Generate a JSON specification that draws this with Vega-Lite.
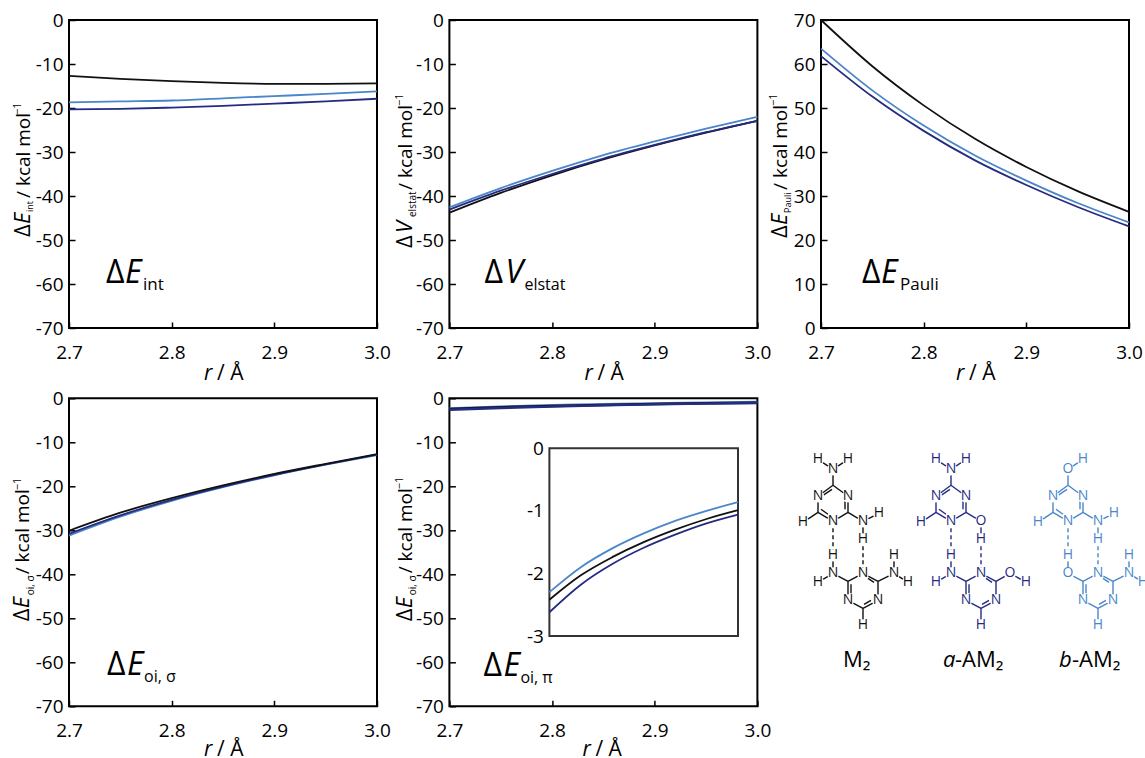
{"$schema":"https://vega.github.io/schema/vega-lite/v6.json","background":"white","padding":{"left":9,"top":10,"right":0,"bottom":0},"spacing":3.3,
"data":{"values":[{"label":"annotation"}]},
"config":{"view":{"stroke":"#000","strokeWidth":2},"axis":{"grid":false,"domain":false,"title":null,"tickSize":-6,"tickWidth":1.5,"tickColor":"#000","labelFont":"Open Sans","labelFontSize":19,"labelColor":"#000","labelPadding":12,"labelFlush":false},"text":{"font":"Open Sans","color":"#000","baseline":"alphabetic"},"line":{"interpolate":"monotone","strokeWidth":1.8}},
"datasets":{
"p1":[{"r":2.7,"e":-18.7,"s":"b-AM2"},{"r":2.75,"e":-18.5,"s":"b-AM2"},{"r":2.8,"e":-18.3,"s":"b-AM2"},{"r":2.85,"e":-17.8,"s":"b-AM2"},{"r":2.9,"e":-17.3,"s":"b-AM2"},{"r":2.95,"e":-16.8,"s":"b-AM2"},{"r":3.0,"e":-16.2,"s":"b-AM2"},
{"r":2.7,"e":-20.3,"s":"a-AM2"},{"r":2.75,"e":-20.2,"s":"a-AM2"},{"r":2.8,"e":-19.9,"s":"a-AM2"},{"r":2.85,"e":-19.5,"s":"a-AM2"},{"r":2.9,"e":-19.0,"s":"a-AM2"},{"r":2.95,"e":-18.5,"s":"a-AM2"},{"r":3.0,"e":-17.9,"s":"a-AM2"},
{"r":2.7,"e":-12.7,"s":"M2"},{"r":2.75,"e":-13.4,"s":"M2"},{"r":2.8,"e":-13.9,"s":"M2"},{"r":2.85,"e":-14.3,"s":"M2"},{"r":2.9,"e":-14.5,"s":"M2"},{"r":2.95,"e":-14.5,"s":"M2"},{"r":3.0,"e":-14.4,"s":"M2"}],
"p2":[{"r":2.7,"e":-43.8,"s":"M2"},{"r":2.75,"e":-39.3,"s":"M2"},{"r":2.8,"e":-35.3,"s":"M2"},{"r":2.85,"e":-31.7,"s":"M2"},{"r":2.9,"e":-28.5,"s":"M2"},{"r":2.95,"e":-25.6,"s":"M2"},{"r":3.0,"e":-22.9,"s":"M2"},
{"r":2.7,"e":-43.1,"s":"a-AM2"},{"r":2.75,"e":-38.8,"s":"a-AM2"},{"r":2.8,"e":-35.0,"s":"a-AM2"},{"r":2.85,"e":-31.5,"s":"a-AM2"},{"r":2.9,"e":-28.4,"s":"a-AM2"},{"r":2.95,"e":-25.5,"s":"a-AM2"},{"r":3.0,"e":-22.9,"s":"a-AM2"},
{"r":2.7,"e":-42.6,"s":"b-AM2"},{"r":2.75,"e":-38.2,"s":"b-AM2"},{"r":2.8,"e":-34.3,"s":"b-AM2"},{"r":2.85,"e":-30.7,"s":"b-AM2"},{"r":2.9,"e":-27.6,"s":"b-AM2"},{"r":2.95,"e":-24.7,"s":"b-AM2"},{"r":3.0,"e":-22.0,"s":"b-AM2"}],
"p3":[{"r":2.7,"e":70,"s":"M2"},{"r":2.75,"e":59.5,"s":"M2"},{"r":2.8,"e":50.6,"s":"M2"},{"r":2.85,"e":43,"s":"M2"},{"r":2.9,"e":36.6,"s":"M2"},{"r":2.95,"e":31.1,"s":"M2"},{"r":3.0,"e":26.4,"s":"M2"},
{"r":2.7,"e":63.5,"s":"b-AM2"},{"r":2.75,"e":54,"s":"b-AM2"},{"r":2.8,"e":46,"s":"b-AM2"},{"r":2.85,"e":39.2,"s":"b-AM2"},{"r":2.9,"e":33.5,"s":"b-AM2"},{"r":2.95,"e":28.4,"s":"b-AM2"},{"r":3.0,"e":24,"s":"b-AM2"},
{"r":2.7,"e":61.8,"s":"a-AM2"},{"r":2.75,"e":52.6,"s":"a-AM2"},{"r":2.8,"e":44.8,"s":"a-AM2"},{"r":2.85,"e":38.1,"s":"a-AM2"},{"r":2.9,"e":32.5,"s":"a-AM2"},{"r":2.95,"e":27.5,"s":"a-AM2"},{"r":3.0,"e":23.1,"s":"a-AM2"}],
"p4":[{"r":2.7,"e":-31.2,"s":"b-AM2"},{"r":2.75,"e":-26.9,"s":"b-AM2"},{"r":2.8,"e":-23.3,"s":"b-AM2"},{"r":2.85,"e":-20.2,"s":"b-AM2"},{"r":2.9,"e":-17.5,"s":"b-AM2"},{"r":2.95,"e":-15.1,"s":"b-AM2"},{"r":3.0,"e":-12.9,"s":"b-AM2"},
{"r":2.7,"e":-30.8,"s":"a-AM2"},{"r":2.75,"e":-26.6,"s":"a-AM2"},{"r":2.8,"e":-23.1,"s":"a-AM2"},{"r":2.85,"e":-20.1,"s":"a-AM2"},{"r":2.9,"e":-17.4,"s":"a-AM2"},{"r":2.95,"e":-15,"s":"a-AM2"},{"r":3.0,"e":-12.8,"s":"a-AM2"},
{"r":2.7,"e":-30.1,"s":"M2"},{"r":2.75,"e":-26,"s":"M2"},{"r":2.8,"e":-22.7,"s":"M2"},{"r":2.85,"e":-19.8,"s":"M2"},{"r":2.9,"e":-17.2,"s":"M2"},{"r":2.95,"e":-14.9,"s":"M2"},{"r":3.0,"e":-12.7,"s":"M2"}],
"p5":[{"r":2.7,"e":-2.3,"s":"b-AM2"},{"r":2.75,"e":-1.9,"s":"b-AM2"},{"r":2.8,"e":-1.6,"s":"b-AM2"},{"r":2.85,"e":-1.36,"s":"b-AM2"},{"r":2.9,"e":-1.16,"s":"b-AM2"},{"r":2.95,"e":-1.0,"s":"b-AM2"},{"r":3.0,"e":-0.86,"s":"b-AM2"},
{"r":2.7,"e":-2.42,"s":"M2"},{"r":2.75,"e":-2.03,"s":"M2"},{"r":2.8,"e":-1.74,"s":"M2"},{"r":2.85,"e":-1.5,"s":"M2"},{"r":2.9,"e":-1.3,"s":"M2"},{"r":2.95,"e":-1.13,"s":"M2"},{"r":3.0,"e":-0.99,"s":"M2"},
{"r":2.7,"e":-2.62,"s":"a-AM2"},{"r":2.75,"e":-2.18,"s":"a-AM2"},{"r":2.8,"e":-1.85,"s":"a-AM2"},{"r":2.85,"e":-1.59,"s":"a-AM2"},{"r":2.9,"e":-1.38,"s":"a-AM2"},{"r":2.95,"e":-1.2,"s":"a-AM2"},{"r":3.0,"e":-1.06,"s":"a-AM2"}],
"atoms":[
{"s":"M2","a":"H","x":817,"y":459},{"s":"M2","a":"N","x":832,"y":469},{"s":"M2","a":"H","x":847,"y":459},{"s":"M2","a":"N","x":817,"y":496},{"s":"M2","a":"N","x":847,"y":496},{"s":"M2","a":"N","x":832,"y":521},{"s":"M2","a":"H","x":802,"y":522},{"s":"M2","a":"N","x":862,"y":521},{"s":"M2","a":"H","x":878,"y":513},{"s":"M2","a":"H","x":862,"y":539},{"s":"M2","a":"H","x":832,"y":555},{"s":"M2","a":"N","x":832,"y":573},{"s":"M2","a":"H","x":817,"y":582},{"s":"M2","a":"N","x":862,"y":573},{"s":"M2","a":"N","x":893,"y":573},{"s":"M2","a":"H","x":893,"y":555},{"s":"M2","a":"H","x":907,"y":582},{"s":"M2","a":"N","x":847,"y":600},{"s":"M2","a":"N","x":877,"y":600},{"s":"M2","a":"H","x":862,"y":625},
{"s":"a-AM2","a":"H","x":935,"y":459},{"s":"a-AM2","a":"N","x":950,"y":469},{"s":"a-AM2","a":"H","x":965,"y":459},{"s":"a-AM2","a":"N","x":935,"y":496},{"s":"a-AM2","a":"N","x":965,"y":496},{"s":"a-AM2","a":"N","x":950,"y":521},{"s":"a-AM2","a":"H","x":920,"y":522},{"s":"a-AM2","a":"O","x":980,"y":521},{"s":"a-AM2","a":"H","x":980,"y":539},{"s":"a-AM2","a":"H","x":950,"y":555},{"s":"a-AM2","a":"N","x":950,"y":573},{"s":"a-AM2","a":"H","x":935,"y":582},{"s":"a-AM2","a":"N","x":980,"y":573},{"s":"a-AM2","a":"N","x":965,"y":600},{"s":"a-AM2","a":"N","x":995,"y":600},{"s":"a-AM2","a":"O","x":1009,"y":573},{"s":"a-AM2","a":"H","x":1025,"y":582},{"s":"a-AM2","a":"H","x":980,"y":625},
{"s":"b-AM2","a":"O","x":1067,"y":469},{"s":"b-AM2","a":"H","x":1082,"y":459},{"s":"b-AM2","a":"N","x":1052,"y":496},{"s":"b-AM2","a":"N","x":1082,"y":496},{"s":"b-AM2","a":"N","x":1067,"y":521},{"s":"b-AM2","a":"H","x":1037,"y":522},{"s":"b-AM2","a":"N","x":1097,"y":521},{"s":"b-AM2","a":"H","x":1113,"y":513},{"s":"b-AM2","a":"H","x":1097,"y":539},{"s":"b-AM2","a":"H","x":1067,"y":555},{"s":"b-AM2","a":"O","x":1067,"y":573},{"s":"b-AM2","a":"N","x":1097,"y":573},{"s":"b-AM2","a":"H","x":1128,"y":555},{"s":"b-AM2","a":"N","x":1128,"y":573},{"s":"b-AM2","a":"H","x":1142,"y":582},{"s":"b-AM2","a":"N","x":1082,"y":600},{"s":"b-AM2","a":"N","x":1112,"y":600},{"s":"b-AM2","a":"H","x":1097,"y":625}],
"hbonds":[{"s":"M2","x":832,"y":521,"x2":832,"y2":555},{"s":"M2","x":862,"y":539,"x2":862,"y2":573},{"s":"a-AM2","x":950,"y":521,"x2":950,"y2":555},{"s":"a-AM2","x":980,"y":539,"x2":980,"y2":573},{"s":"b-AM2","x":1067,"y":521,"x2":1067,"y2":555},{"s":"b-AM2","x":1097,"y":539,"x2":1097,"y2":573}],
"bonds":[
{"s":"M2","x":832,"y":469,"x2":817,"y2":459},{"s":"M2","x":832,"y":469,"x2":847,"y2":459},{"s":"M2","x":832,"y":469,"x2":832,"y2":485},{"s":"M2","x":832,"y":485,"x2":817,"y2":496},{"s":"M2","x":832,"y":485,"x2":847,"y2":496},{"s":"M2","x":847,"y":496,"x2":847,"y2":512},{"s":"M2","x":847,"y":512,"x2":832,"y2":521},{"s":"M2","x":832,"y":521,"x2":817,"y2":512},{"s":"M2","x":817,"y":512,"x2":817,"y2":496},{"s":"M2","x":831,"y":489,"x2":822,"y2":495},{"s":"M2","x":844,"y":501,"x2":844,"y2":509},{"s":"M2","x":820,"y":509,"x2":827,"y2":514},{"s":"M2","x":817,"y":512,"x2":802,"y2":522},{"s":"M2","x":847,"y":512,"x2":862,"y2":521},{"s":"M2","x":862,"y":521,"x2":878,"y2":513},{"s":"M2","x":862,"y":521,"x2":862,"y2":539},{"s":"M2","x":832,"y":555,"x2":832,"y2":573},{"s":"M2","x":832,"y":573,"x2":817,"y2":582},{"s":"M2","x":832,"y":573,"x2":847,"y2":581},{"s":"M2","x":847,"y":581,"x2":862,"y2":573},{"s":"M2","x":862,"y":573,"x2":877,"y2":581},{"s":"M2","x":877,"y":581,"x2":877,"y2":600},{"s":"M2","x":877,"y":600,"x2":862,"y2":608},{"s":"M2","x":862,"y":608,"x2":847,"y2":600},{"s":"M2","x":847,"y":600,"x2":847,"y2":581},{"s":"M2","x":867,"y":578,"x2":873,"y2":582},{"s":"M2","x":850,"y":584,"x2":850,"y2":593},{"s":"M2","x":863,"y":604,"x2":870,"y2":600},{"s":"M2","x":877,"y":581,"x2":893,"y2":573},{"s":"M2","x":893,"y":573,"x2":893,"y2":555},{"s":"M2","x":893,"y":573,"x2":907,"y2":582},{"s":"M2","x":862,"y":608,"x2":862,"y2":625},
{"s":"a-AM2","x":950,"y":469,"x2":935,"y2":459},{"s":"a-AM2","x":950,"y":469,"x2":965,"y2":459},{"s":"a-AM2","x":950,"y":469,"x2":950,"y2":485},{"s":"a-AM2","x":950,"y":485,"x2":935,"y2":496},{"s":"a-AM2","x":950,"y":485,"x2":965,"y2":496},{"s":"a-AM2","x":965,"y":496,"x2":965,"y2":512},{"s":"a-AM2","x":965,"y":512,"x2":950,"y2":521},{"s":"a-AM2","x":950,"y":521,"x2":935,"y2":512},{"s":"a-AM2","x":935,"y":512,"x2":935,"y2":496},{"s":"a-AM2","x":949,"y":489,"x2":940,"y2":495},{"s":"a-AM2","x":962,"y":501,"x2":962,"y2":509},{"s":"a-AM2","x":938,"y":509,"x2":945,"y2":514},{"s":"a-AM2","x":935,"y":512,"x2":920,"y2":522},{"s":"a-AM2","x":965,"y":512,"x2":980,"y2":521},{"s":"a-AM2","x":980,"y":521,"x2":980,"y2":539},{"s":"a-AM2","x":950,"y":555,"x2":950,"y2":573},{"s":"a-AM2","x":950,"y":573,"x2":935,"y2":582},{"s":"a-AM2","x":950,"y":573,"x2":965,"y2":581},{"s":"a-AM2","x":965,"y":581,"x2":980,"y2":573},{"s":"a-AM2","x":980,"y":573,"x2":995,"y2":581},{"s":"a-AM2","x":995,"y":581,"x2":995,"y2":600},{"s":"a-AM2","x":995,"y":600,"x2":980,"y2":608},{"s":"a-AM2","x":980,"y":608,"x2":965,"y2":600},{"s":"a-AM2","x":965,"y":600,"x2":965,"y2":581},{"s":"a-AM2","x":985,"y":578,"x2":991,"y2":582},{"s":"a-AM2","x":968,"y":584,"x2":968,"y2":593},{"s":"a-AM2","x":981,"y":604,"x2":988,"y2":600},{"s":"a-AM2","x":995,"y":581,"x2":1009,"y2":573},{"s":"a-AM2","x":1009,"y":573,"x2":1025,"y2":582},{"s":"a-AM2","x":980,"y":608,"x2":980,"y2":625},
{"s":"b-AM2","x":1067,"y":469,"x2":1082,"y2":459},{"s":"b-AM2","x":1067,"y":469,"x2":1067,"y2":485},{"s":"b-AM2","x":1067,"y":485,"x2":1052,"y2":496},{"s":"b-AM2","x":1067,"y":485,"x2":1082,"y2":496},{"s":"b-AM2","x":1082,"y":496,"x2":1082,"y2":512},{"s":"b-AM2","x":1082,"y":512,"x2":1067,"y2":521},{"s":"b-AM2","x":1067,"y":521,"x2":1052,"y2":512},{"s":"b-AM2","x":1052,"y":512,"x2":1052,"y2":496},{"s":"b-AM2","x":1066,"y":489,"x2":1057,"y2":495},{"s":"b-AM2","x":1079,"y":501,"x2":1079,"y2":509},{"s":"b-AM2","x":1055,"y":509,"x2":1062,"y2":514},{"s":"b-AM2","x":1052,"y":512,"x2":1037,"y2":522},{"s":"b-AM2","x":1082,"y":512,"x2":1097,"y2":521},{"s":"b-AM2","x":1097,"y":521,"x2":1113,"y2":513},{"s":"b-AM2","x":1097,"y":521,"x2":1097,"y2":539},{"s":"b-AM2","x":1067,"y":555,"x2":1067,"y2":573},{"s":"b-AM2","x":1067,"y":573,"x2":1082,"y2":581},{"s":"b-AM2","x":1082,"y":581,"x2":1097,"y2":573},{"s":"b-AM2","x":1097,"y":573,"x2":1112,"y2":581},{"s":"b-AM2","x":1112,"y":581,"x2":1112,"y2":600},{"s":"b-AM2","x":1112,"y":600,"x2":1097,"y2":608},{"s":"b-AM2","x":1097,"y":608,"x2":1082,"y2":600},{"s":"b-AM2","x":1082,"y":600,"x2":1082,"y2":581},{"s":"b-AM2","x":1102,"y":578,"x2":1108,"y2":582},{"s":"b-AM2","x":1085,"y":584,"x2":1085,"y2":593},{"s":"b-AM2","x":1098,"y":604,"x2":1105,"y2":600},{"s":"b-AM2","x":1112,"y":581,"x2":1128,"y2":573},{"s":"b-AM2","x":1128,"y":573,"x2":1128,"y2":555},{"s":"b-AM2","x":1128,"y":573,"x2":1142,"y2":582},{"s":"b-AM2","x":1097,"y":608,"x2":1097,"y2":625}]
},
"vconcat":[
{"spacing":-6,"hconcat":[
{"bounds":"flush","spacing":72.4,"hconcat":[
{"width":308,"height":308,"layer":[
{"data":{"name":"p1"},"mark":"line","encoding":{"x":{"field":"r","type":"quantitative","scale":{"domain":[2.7,3.0],"nice":false,"zero":false},"axis":{"values":[2.7,2.8,2.9,3.0],"format":".1f","labelPadding":21}},"y":{"field":"e","type":"quantitative","scale":{"domain":[-70,0],"nice":false},"axis":{"values":[-70,-60,-50,-40,-30,-20,-10,0],"labelExpr":"''+datum.value"}},"color":{"field":"s","type":"nominal","scale":{"domain":["M2","a-AM2","b-AM2"],"range":["#111111","#252b80","#4a86c8"]},"legend":null}}},
{"mark":{"type":"text","text":"Δ","fontSize":22,"angle":270,"align":"left","dx":91,"dy":-39},"encoding":{"x":{"datum":2.7,"type":"quantitative"},"y":{"datum":-70,"type":"quantitative"}}},
{"mark":{"type":"text","text":"E","fontStyle":"italic","fontSize":22,"angle":270,"align":"left","dx":104,"dy":-39},"encoding":{"x":{"datum":2.7,"type":"quantitative"},"y":{"datum":-70,"type":"quantitative"}}},
{"mark":{"type":"text","text":"int","fontSize":9,"angle":270,"align":"left","dx":116,"dy":-36},"encoding":{"x":{"datum":2.7,"type":"quantitative"},"y":{"datum":-70,"type":"quantitative"}}},
{"mark":{"type":"text","text":"/ kcal mol","fontSize":19,"angle":270,"align":"left","dx":130,"dy":-39},"encoding":{"x":{"datum":2.7,"type":"quantitative"},"y":{"datum":-70,"type":"quantitative"}}},
{"mark":{"type":"text","text":"−1","fontSize":11,"angle":270,"align":"left","dx":213,"dy":-48},"encoding":{"x":{"datum":2.7,"type":"quantitative"},"y":{"datum":-70,"type":"quantitative"}}},
{"mark":{"type":"text","text":"r","fontStyle":"italic","fontSize":21,"align":"left","dx":135,"dy":52},"encoding":{"x":{"datum":2.7,"type":"quantitative"},"y":{"datum":-70,"type":"quantitative"}}},
{"mark":{"type":"text","text":"/ Å","fontSize":21,"align":"left","dx":148,"dy":52},"encoding":{"x":{"datum":2.7,"type":"quantitative"},"y":{"datum":-70,"type":"quantitative"}}},
{"mark":{"type":"text","text":"Δ","fontSize":32,"align":"left","dx":37,"dy":-45},"encoding":{"x":{"datum":2.7,"type":"quantitative"},"y":{"datum":-70,"type":"quantitative"}}},
{"mark":{"type":"text","text":"E","fontStyle":"italic","fontSize":32,"align":"left","dx":56,"dy":-45},"encoding":{"x":{"datum":2.7,"type":"quantitative"},"y":{"datum":-70,"type":"quantitative"}}},
{"mark":{"type":"text","text":"int","fontSize":17,"align":"left","dx":74,"dy":-38},"encoding":{"x":{"datum":2.7,"type":"quantitative"},"y":{"datum":-70,"type":"quantitative"}}}
]},
{"width":308,"height":308,"layer":[
{"data":{"name":"p2"},"mark":"line","encoding":{"x":{"field":"r","type":"quantitative","scale":{"domain":[2.7,3.0],"nice":false,"zero":false},"axis":{"values":[2.7,2.8,2.9,3.0],"format":".1f","labelPadding":21}},"y":{"field":"e","type":"quantitative","scale":{"domain":[-70,0],"nice":false},"axis":{"values":[-70,-60,-50,-40,-30,-20,-10,0],"labelExpr":"''+datum.value"}},"color":{"field":"s","type":"nominal","scale":{"domain":["M2","a-AM2","b-AM2"],"range":["#111111","#252b80","#4a86c8"]},"legend":null}}},
{"mark":{"type":"text","text":"Δ","fontSize":22,"angle":270,"align":"left","dx":80,"dy":-37},"encoding":{"x":{"datum":2.7,"type":"quantitative"},"y":{"datum":-70,"type":"quantitative"}}},
{"mark":{"type":"text","text":"V","fontStyle":"italic","fontSize":22,"angle":270,"align":"left","dx":95,"dy":-37},"encoding":{"x":{"datum":2.7,"type":"quantitative"},"y":{"datum":-70,"type":"quantitative"}}},
{"mark":{"type":"text","text":"elstat","fontSize":10,"angle":270,"align":"left","dx":111,"dy":-33},"encoding":{"x":{"datum":2.7,"type":"quantitative"},"y":{"datum":-70,"type":"quantitative"}}},
{"mark":{"type":"text","text":"/ kcal mol","fontSize":19,"angle":270,"align":"left","dx":138,"dy":-37},"encoding":{"x":{"datum":2.7,"type":"quantitative"},"y":{"datum":-70,"type":"quantitative"}}},
{"mark":{"type":"text","text":"−1","fontSize":11,"angle":270,"align":"left","dx":222,"dy":-46},"encoding":{"x":{"datum":2.7,"type":"quantitative"},"y":{"datum":-70,"type":"quantitative"}}},
{"mark":{"type":"text","text":"r","fontStyle":"italic","fontSize":21,"align":"left","dx":135,"dy":52},"encoding":{"x":{"datum":2.7,"type":"quantitative"},"y":{"datum":-70,"type":"quantitative"}}},
{"mark":{"type":"text","text":"/ Å","fontSize":21,"align":"left","dx":148,"dy":52},"encoding":{"x":{"datum":2.7,"type":"quantitative"},"y":{"datum":-70,"type":"quantitative"}}},
{"mark":{"type":"text","text":"Δ","fontSize":32,"align":"left","dx":35,"dy":-45},"encoding":{"x":{"datum":2.7,"type":"quantitative"},"y":{"datum":-70,"type":"quantitative"}}},
{"mark":{"type":"text","text":"V","fontStyle":"italic","fontSize":32,"align":"left","dx":56,"dy":-45},"encoding":{"x":{"datum":2.7,"type":"quantitative"},"y":{"datum":-70,"type":"quantitative"}}},
{"mark":{"type":"text","text":"elstat","fontSize":16,"align":"left","dx":75,"dy":-38},"encoding":{"x":{"datum":2.7,"type":"quantitative"},"y":{"datum":-70,"type":"quantitative"}}}
]}
]},
{"width":308,"height":308,"layer":[
{"data":{"name":"p3"},"mark":"line","encoding":{"x":{"field":"r","type":"quantitative","scale":{"domain":[2.7,3.0],"nice":false,"zero":false},"axis":{"values":[2.7,2.8,2.9,3.0],"format":".1f","labelPadding":21}},"y":{"field":"e","type":"quantitative","scale":{"domain":[0,70],"nice":false},"axis":{"values":[0,10,20,30,40,50,60,70],"labelExpr":"''+datum.value"}},"color":{"field":"s","type":"nominal","scale":{"domain":["M2","a-AM2","b-AM2"],"range":["#111111","#252b80","#4a86c8"]},"legend":null}}},
{"mark":{"type":"text","text":"Δ","fontSize":22,"angle":270,"align":"left","dx":90,"dy":-34},"encoding":{"x":{"datum":2.7,"type":"quantitative"},"y":{"datum":0,"type":"quantitative"}}},
{"mark":{"type":"text","text":"E","fontStyle":"italic","fontSize":22,"angle":270,"align":"left","dx":103,"dy":-34},"encoding":{"x":{"datum":2.7,"type":"quantitative"},"y":{"datum":0,"type":"quantitative"}}},
{"mark":{"type":"text","text":"Pauli","fontSize":9,"angle":270,"align":"left","dx":115,"dy":-30},"encoding":{"x":{"datum":2.7,"type":"quantitative"},"y":{"datum":0,"type":"quantitative"}}},
{"mark":{"type":"text","text":"/ kcal mol","fontSize":19,"angle":270,"align":"left","dx":138,"dy":-34},"encoding":{"x":{"datum":2.7,"type":"quantitative"},"y":{"datum":0,"type":"quantitative"}}},
{"mark":{"type":"text","text":"−1","fontSize":11,"angle":270,"align":"left","dx":222,"dy":-44},"encoding":{"x":{"datum":2.7,"type":"quantitative"},"y":{"datum":0,"type":"quantitative"}}},
{"mark":{"type":"text","text":"r","fontStyle":"italic","fontSize":21,"align":"left","dx":135,"dy":52},"encoding":{"x":{"datum":2.7,"type":"quantitative"},"y":{"datum":0,"type":"quantitative"}}},
{"mark":{"type":"text","text":"/ Å","fontSize":21,"align":"left","dx":148,"dy":52},"encoding":{"x":{"datum":2.7,"type":"quantitative"},"y":{"datum":0,"type":"quantitative"}}},
{"mark":{"type":"text","text":"Δ","fontSize":32,"align":"left","dx":41,"dy":-45},"encoding":{"x":{"datum":2.7,"type":"quantitative"},"y":{"datum":0,"type":"quantitative"}}},
{"mark":{"type":"text","text":"E","fontStyle":"italic","fontSize":32,"align":"left","dx":60,"dy":-45},"encoding":{"x":{"datum":2.7,"type":"quantitative"},"y":{"datum":0,"type":"quantitative"}}},
{"mark":{"type":"text","text":"Pauli","fontSize":17,"align":"left","dx":79,"dy":-38},"encoding":{"x":{"datum":2.7,"type":"quantitative"},"y":{"datum":0,"type":"quantitative"}}}
]}
]},
{"spacing":-6,"hconcat":[
{"bounds":"flush","spacing":72.4,"hconcat":[
{"width":308,"height":308,"layer":[
{"data":{"name":"p4"},"mark":"line","encoding":{"x":{"field":"r","type":"quantitative","scale":{"domain":[2.7,3.0],"nice":false,"zero":false},"axis":{"values":[2.7,2.8,2.9,3.0],"format":".1f","labelPadding":21}},"y":{"field":"e","type":"quantitative","scale":{"domain":[-70,0],"nice":false},"axis":{"values":[-70,-60,-50,-40,-30,-20,-10,0],"labelExpr":"''+datum.value"}},"color":{"field":"s","type":"nominal","scale":{"domain":["M2","a-AM2","b-AM2"],"range":["#111111","#252b80","#4a86c8"]},"legend":null}}},
{"mark":{"type":"text","text":"Δ","fontSize":22,"angle":270,"align":"left","dx":85,"dy":-40},"encoding":{"x":{"datum":2.7,"type":"quantitative"},"y":{"datum":-70,"type":"quantitative"}}},
{"mark":{"type":"text","text":"E","fontStyle":"italic","fontSize":22,"angle":270,"align":"left","dx":98,"dy":-40},"encoding":{"x":{"datum":2.7,"type":"quantitative"},"y":{"datum":-70,"type":"quantitative"}}},
{"mark":{"type":"text","text":"oi, σ","fontSize":10,"angle":270,"align":"left","dx":111,"dy":-35},"encoding":{"x":{"datum":2.7,"type":"quantitative"},"y":{"datum":-70,"type":"quantitative"}}},
{"mark":{"type":"text","text":"/ kcal mol","fontSize":19,"angle":270,"align":"left","dx":132,"dy":-40},"encoding":{"x":{"datum":2.7,"type":"quantitative"},"y":{"datum":-70,"type":"quantitative"}}},
{"mark":{"type":"text","text":"−1","fontSize":11,"angle":270,"align":"left","dx":216,"dy":-48},"encoding":{"x":{"datum":2.7,"type":"quantitative"},"y":{"datum":-70,"type":"quantitative"}}},
{"mark":{"type":"text","text":"r","fontStyle":"italic","fontSize":21,"align":"left","dx":135,"dy":50},"encoding":{"x":{"datum":2.7,"type":"quantitative"},"y":{"datum":-70,"type":"quantitative"}}},
{"mark":{"type":"text","text":"/ Å","fontSize":21,"align":"left","dx":148,"dy":50},"encoding":{"x":{"datum":2.7,"type":"quantitative"},"y":{"datum":-70,"type":"quantitative"}}},
{"mark":{"type":"text","text":"Δ","fontSize":32,"align":"left","dx":38,"dy":-31},"encoding":{"x":{"datum":2.7,"type":"quantitative"},"y":{"datum":-70,"type":"quantitative"}}},
{"mark":{"type":"text","text":"E","fontStyle":"italic","fontSize":32,"align":"left","dx":58,"dy":-31},"encoding":{"x":{"datum":2.7,"type":"quantitative"},"y":{"datum":-70,"type":"quantitative"}}},
{"mark":{"type":"text","text":"oi, σ","fontSize":16,"align":"left","dx":75,"dy":-24},"encoding":{"x":{"datum":2.7,"type":"quantitative"},"y":{"datum":-70,"type":"quantitative"}}}
]},
{"width":308,"height":308,"resolve":{"scale":{"x":"independent","y":"independent"},"axis":{"x":"independent","y":"independent"}},"layer":[
{"layer":[
{"data":{"name":"p5"},"mark":{"type":"line","strokeWidth":2.5},"encoding":{"x":{"field":"r","type":"quantitative","scale":{"domain":[2.7,3.0],"nice":false,"zero":false},"axis":{"values":[2.7,2.8,2.9,3.0],"format":".1f","labelPadding":21}},"y":{"field":"e","type":"quantitative","scale":{"domain":[-70,0],"nice":false},"axis":{"orient":"left","values":[-70,-60,-50,-40,-30,-20,-10,0],"labelExpr":"''+datum.value"}},"color":{"field":"s","type":"nominal","scale":{"domain":["M2","a-AM2","b-AM2"],"range":["#111111","#252b80","#4a86c8"]},"legend":null}}},
{"mark":{"type":"text","text":"Δ","fontSize":22,"angle":270,"align":"left","dx":85,"dy":-37},"encoding":{"x":{"datum":2.7,"type":"quantitative"},"y":{"datum":-70,"type":"quantitative"}}},
{"mark":{"type":"text","text":"E","fontStyle":"italic","fontSize":22,"angle":270,"align":"left","dx":98,"dy":-37},"encoding":{"x":{"datum":2.7,"type":"quantitative"},"y":{"datum":-70,"type":"quantitative"}}},
{"mark":{"type":"text","text":"oi, σ","fontSize":10,"angle":270,"align":"left","dx":111,"dy":-33},"encoding":{"x":{"datum":2.7,"type":"quantitative"},"y":{"datum":-70,"type":"quantitative"}}},
{"mark":{"type":"text","text":"/ kcal mol","fontSize":19,"angle":270,"align":"left","dx":133,"dy":-37},"encoding":{"x":{"datum":2.7,"type":"quantitative"},"y":{"datum":-70,"type":"quantitative"}}},
{"mark":{"type":"text","text":"−1","fontSize":11,"angle":270,"align":"left","dx":217,"dy":-46},"encoding":{"x":{"datum":2.7,"type":"quantitative"},"y":{"datum":-70,"type":"quantitative"}}},
{"mark":{"type":"text","text":"r","fontStyle":"italic","fontSize":21,"align":"left","dx":133,"dy":50},"encoding":{"x":{"datum":2.7,"type":"quantitative"},"y":{"datum":-70,"type":"quantitative"}}},
{"mark":{"type":"text","text":"/ Å","fontSize":21,"align":"left","dx":146,"dy":50},"encoding":{"x":{"datum":2.7,"type":"quantitative"},"y":{"datum":-70,"type":"quantitative"}}},
{"mark":{"type":"text","text":"Δ","fontSize":32,"align":"left","dx":34,"dy":-30},"encoding":{"x":{"datum":2.7,"type":"quantitative"},"y":{"datum":-70,"type":"quantitative"}}},
{"mark":{"type":"text","text":"E","fontStyle":"italic","fontSize":32,"align":"left","dx":54,"dy":-30},"encoding":{"x":{"datum":2.7,"type":"quantitative"},"y":{"datum":-70,"type":"quantitative"}}},
{"mark":{"type":"text","text":"oi, π","fontSize":16,"align":"left","dx":71,"dy":-23},"encoding":{"x":{"datum":2.7,"type":"quantitative"},"y":{"datum":-70,"type":"quantitative"}}}
]},
{"layer":[
{"mark":{"type":"rect","fill":"white","stroke":"#333333","strokeWidth":2},"encoding":{"x":{"datum":2.7,"type":"quantitative","scale":{"domain":[2.7,3.0],"range":[100,288.6],"nice":false,"zero":false},"axis":null},"x2":{"datum":3.0},"y":{"datum":-3,"type":"quantitative","scale":{"domain":[-3,0],"range":[237.7,50],"nice":false},"axis":{"orient":"left","offset":-100,"values":[-3,-2,-1,0],"ticks":false,"labelPadding":6,"labelExpr":"''+datum.value"}},"y2":{"datum":0}}},
{"data":{"name":"p5"},"mark":"line","encoding":{"x":{"field":"r","type":"quantitative","scale":{"domain":[2.7,3.0],"range":[100,288.6],"nice":false,"zero":false},"axis":null},"y":{"field":"e","type":"quantitative","scale":{"domain":[-3,0],"range":[237.7,50],"nice":false}},"color":{"field":"s","type":"nominal","scale":{"domain":["M2","a-AM2","b-AM2"],"range":["#111111","#252b80","#4a86c8"]},"legend":null}}}
]}
]}
]},
{"width":374,"height":308,"view":{"stroke":null},"layer":[
{"data":{"name":"bonds"},"mark":{"type":"rule","strokeWidth":1.4},"encoding":{"x":{"field":"x","type":"quantitative","scale":{"domain":[771,1145],"nice":false,"zero":false},"axis":null},"y":{"field":"y","type":"quantitative","scale":{"domain":[706,398],"nice":false,"zero":false},"axis":null},"x2":{"field":"x2"},"y2":{"field":"y2"},"color":{"field":"s","type":"nominal","scale":{"domain":["M2","a-AM2","b-AM2"],"range":["#222222","#2d3a8c","#4a8ad0"]},"legend":null}}},
{"data":{"name":"hbonds"},"mark":{"type":"rule","strokeWidth":1.4,"strokeDash":[4,3]},"encoding":{"x":{"field":"x","type":"quantitative","axis":null},"y":{"field":"y","type":"quantitative","axis":null},"x2":{"field":"x2"},"y2":{"field":"y2"},"color":{"field":"s","type":"nominal","legend":null}}},
{"data":{"name":"atoms"},"mark":{"type":"point","filled":true,"size":150,"color":"white","opacity":1},"encoding":{"x":{"field":"x","type":"quantitative","axis":null},"y":{"field":"y","type":"quantitative","axis":null}}},
{"data":{"name":"atoms"},"mark":{"type":"text","fontSize":14,"align":"center","baseline":"middle"},"encoding":{"x":{"field":"x","type":"quantitative","axis":null},"y":{"field":"y","type":"quantitative","axis":null},"text":{"field":"a"},"color":{"field":"s","type":"nominal","scale":{"domain":["M2","a-AM2","b-AM2"],"range":["#222222","#2d3a8c","#4a8ad0"]},"legend":null}}},
{"mark":{"type":"text","text":"M₂","fontSize":22,"align":"left"},"encoding":{"x":{"datum":842,"type":"quantitative","axis":null},"y":{"datum":667,"type":"quantitative","axis":null}}},
{"mark":{"type":"text","text":"a","fontStyle":"italic","fontSize":22,"align":"left"},"encoding":{"x":{"datum":942,"type":"quantitative","axis":null},"y":{"datum":667,"type":"quantitative","axis":null}}},
{"mark":{"type":"text","text":"-AM₂","fontSize":22,"align":"left"},"encoding":{"x":{"datum":954,"type":"quantitative","axis":null},"y":{"datum":667,"type":"quantitative","axis":null}}},
{"mark":{"type":"text","text":"b","fontStyle":"italic","fontSize":22,"align":"left"},"encoding":{"x":{"datum":1058,"type":"quantitative","axis":null},"y":{"datum":667,"type":"quantitative","axis":null}}},
{"mark":{"type":"text","text":"-AM₂","fontSize":22,"align":"left"},"encoding":{"x":{"datum":1071,"type":"quantitative","axis":null},"y":{"datum":667,"type":"quantitative","axis":null}}}
]}
]}
]}
